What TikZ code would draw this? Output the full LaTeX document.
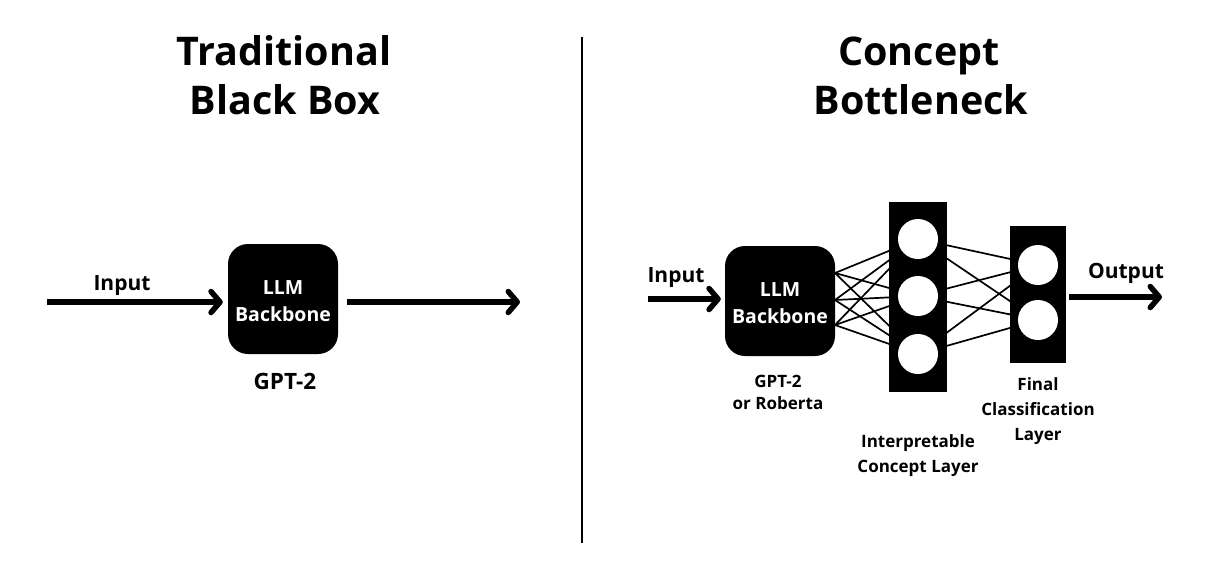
\documentclass[tikz,border=0pt]{standalone}
\usepackage{fontspec}
\setmainfont{Open Sans}
\usetikzlibrary{arrows.meta}
\tikzset{
  title/.style={font=\fontsize{39.5}{42}\selectfont\bfseries, anchor=base, inner sep=0pt},
  lbl/.style={font=\fontsize{21}{24}\selectfont\bfseries, anchor=base, inner sep=0pt},
  gptbig/.style={font=\fontsize{22.5}{24}\selectfont\bfseries, anchor=base, inner sep=0pt},
  small/.style={font=\fontsize{17}{20}\selectfont\bfseries, anchor=base, inner sep=0pt},
  llm/.style={fill=black, rounded corners=20pt, minimum width=110pt, minimum height=110pt, inner sep=0pt},
  llmtxt/.style={font=\fontsize{19.5}{27}\selectfont\bfseries, text=white, align=center},
  layer/.style={fill=black, inner sep=0pt},
  neuron/.style={circle, fill=white, minimum size=40pt, inner sep=0pt},
  bigarrow/.style={line width=5.5pt, -{Straight Barb[round,length=9pt,width=21pt]}},
  wire/.style={line width=1.7pt},
}
\begin{document}
\begin{tikzpicture}[x=1pt,y=-1pt]
\useasboundingbox[fill=white] (0,0) rectangle (1218,566);
% divider
\coordinate (dtop) at (582,37);
\coordinate (dbot) at (582,543);
\draw[line width=2pt] (dtop) -- (dbot);
% titles
\node[title] (t1a) at (284,65) {Traditional};
\node[title] (t1b) at (285,114) {Black Box};
\node[title] (t2a) at (919,65) {Concept};
\node[title] (t2b) at (921,114) {Bottleneck};
% left
\node[llm] (llmL) at (283,299) {};
\node[llmtxt] (llmLt) at (283,301) {LLM\\Backbone};
\coordinate (inL) at (47,302);
\coordinate (outL) at (520,302);
\draw[bigarrow] (inL) -- ([xshift=-5pt]llmL.west |- inL);
\draw[bigarrow] ([xshift=9pt]llmL.east |- outL) -- (outL);
\node[lbl] (inLt) at (122,290) {Input};
\node[gptbig] (gptL) at (285,389) {GPT-2};
% right
\node[llm] (llmR) at (780,301) {};
\node[llmtxt] (llmRt) at (780,303) {LLM\\Backbone};
\coordinate (inR) at (648,299);
\draw[bigarrow] (inR) -- ([xshift=-4pt]llmR.west |- inR);
\node[lbl] (inRt) at (676,282) {Input};
% neuron positions
\coordinate (c1) at (918,239);
\coordinate (c2) at (918,296);
\coordinate (c3) at (918,354);
\coordinate (f1) at (1038,265);
\coordinate (f2) at (1038,320);
\coordinate (s1) at (835,273);
\coordinate (s2) at (835,300);
\coordinate (s3) at (835,325);
% wires
\foreach \s in {s1,s2,s3}{\foreach \c in {c1,c2,c3}{\draw[wire] (\s) -- (\c);}}
\foreach \c in {c1,c2,c3}{\foreach \f in {f1,f2}{\draw[wire] (\c) -- (\f);}}
\node[layer, minimum width=58pt, minimum height=190pt] (concept) at (918,297) {};
\node[layer, minimum width=56pt, minimum height=137pt] (final) at (1038,294.5) {};
\node[neuron] (n1) at (c1) {};
\node[neuron] (n2) at (c2) {};
\node[neuron] (n3) at (c3) {};
\node[neuron] (m1) at (f1) {};
\node[neuron] (m2) at (f2) {};
\coordinate (outR) at (1162,297);
\draw[bigarrow] ([xshift=3pt]final.east |- outR) -- (outR);
\node[lbl] (outRt) at (1126,278) {Output};
\node[small] (gptR1) at (778,387) {GPT-2};
\node[small] (gptR2) at (778,409) {or Roberta};
\node[small] (cl1) at (918,447) {Interpretable};
\node[small] (cl2) at (918,472) {Concept Layer};
\node[small] (fl1) at (1038,390) {Final};
\node[small] (fl2) at (1038,415) {Classification};
\node[small] (fl3) at (1038,440) {Layer};
\end{tikzpicture}
\end{document}
